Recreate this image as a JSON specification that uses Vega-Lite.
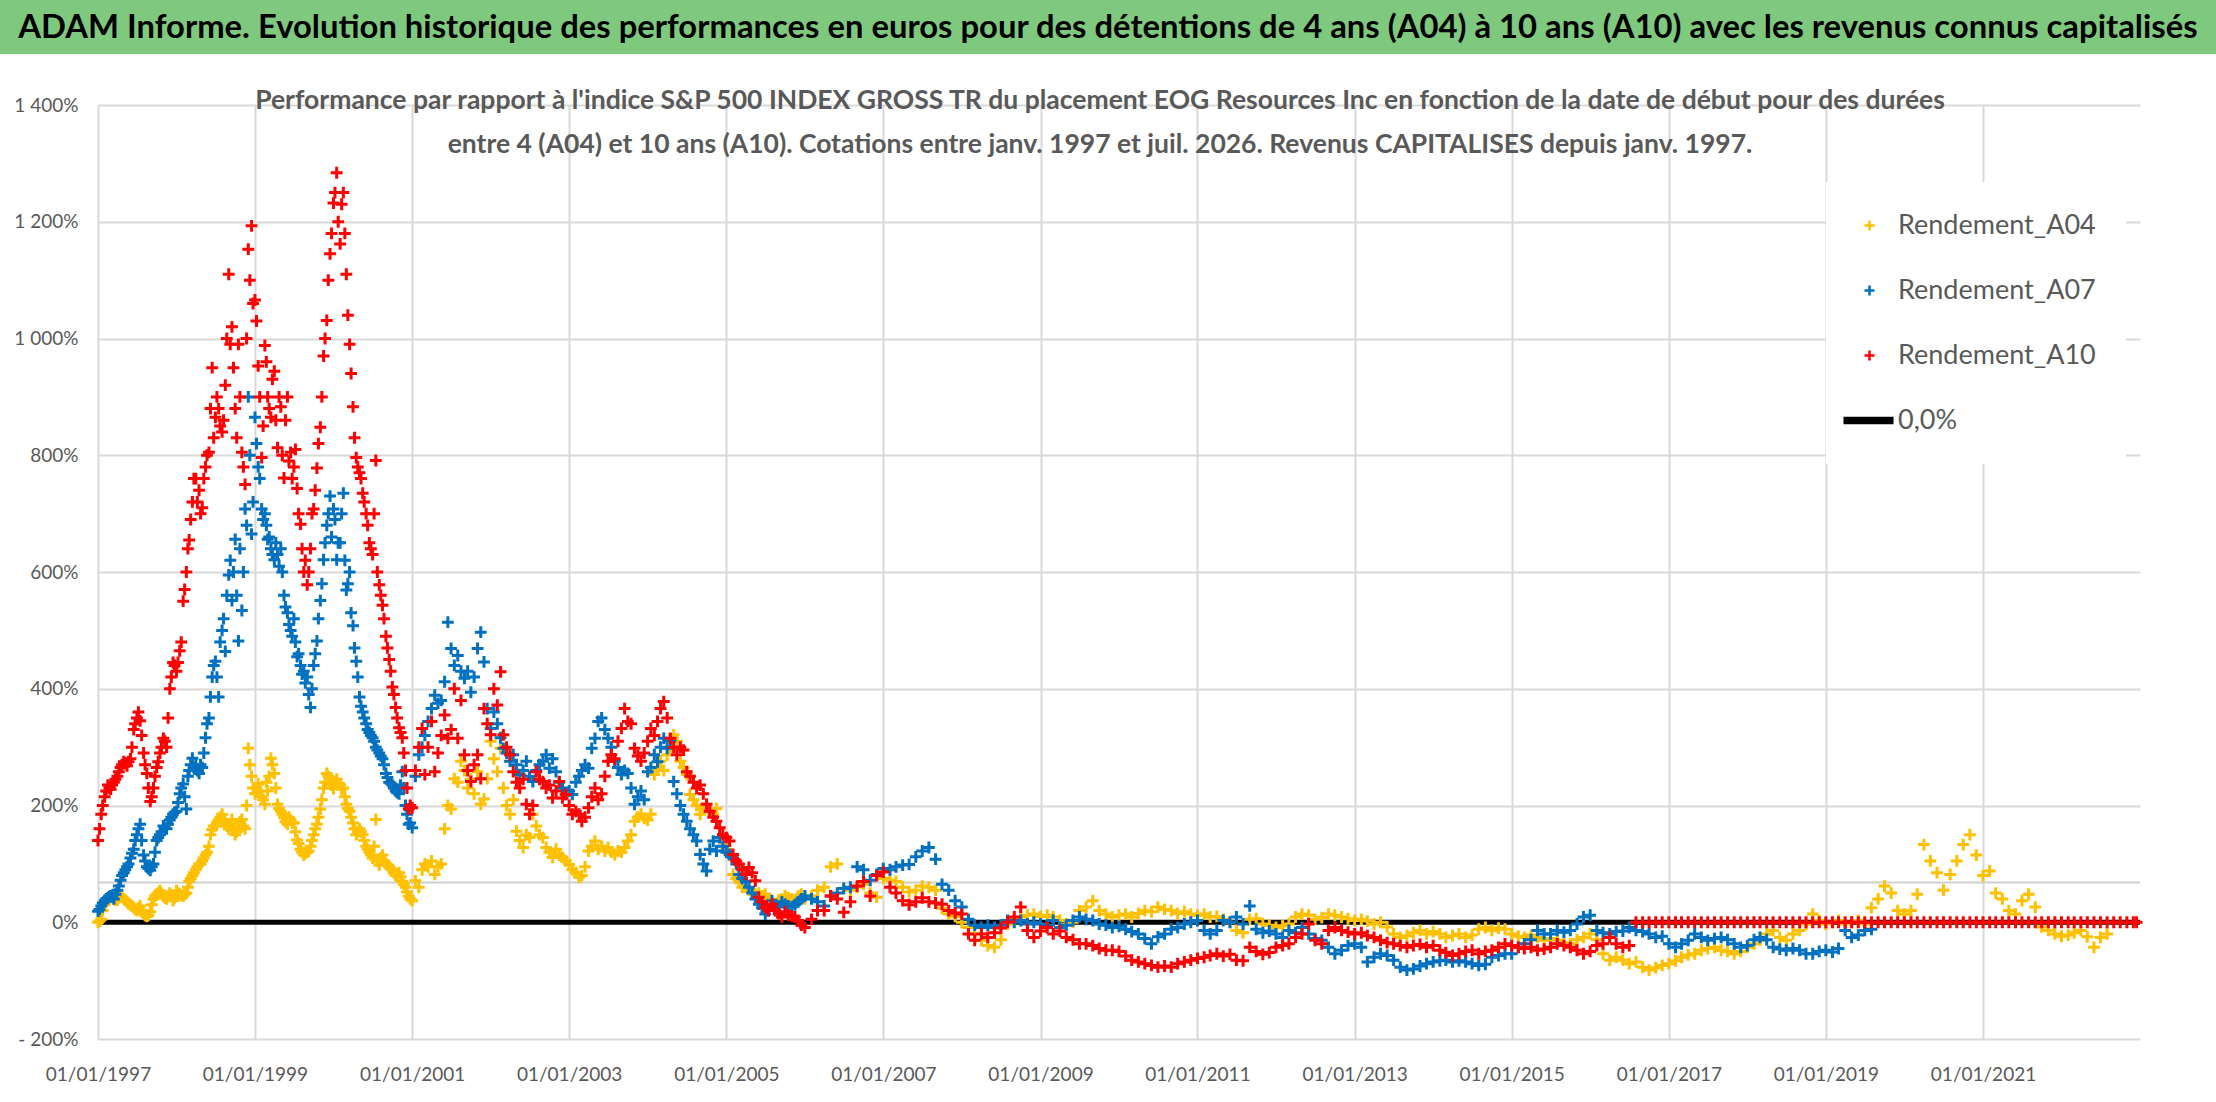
{
  "$schema": "https://vega.github.io/schema/vega-lite/v6.json",
  "padding": 0,
  "spacing": 33,
  "background": "white",
  "config": {
    "font": "Lato",
    "view": {"stroke": null},
    "axis": {"labelFont": "Lato", "labelColor": "#595959", "gridColor": "#d9d9d9", "gridWidth": 2, "domain": false, "ticks": false, "tickSize": 0},
    "legend": {"labelFont": "Lato"},
    "title": {"font": "Lato"}
  },
  "vconcat": [
    {
      "width": 2216,
      "height": 54,
      "view": {"fill": "#7fc97f", "stroke": null},
      "data": {"values": [{"t": "ADAM Informe. Evolution historique des performances en euros pour des détentions de 4 ans (A04) à 10 ans (A10) avec les revenus connus capitalisés"}]},
      "mark": {"type": "text", "fontSize": 32.8, "fontWeight": "bold", "color": "black", "baseline": "middle", "dy": 1, "font": "Lato"},
      "encoding": {"text": {"field": "t", "type": "nominal"}}
    },
    {
      "spacing": 0,
      "hconcat": [
        {
          "width": 1,
          "height": 1,
          "data": {"values": []},
          "mark": {"type": "point", "opacity": 0},
          "encoding": {}
        },
        {
          "width": 2042,
          "height": 934,
          "title": {
            "text": ["Performance  par rapport à l'indice S&P 500 INDEX GROSS TR  du placement EOG Resources Inc en fonction de la date de début pour des durées", "entre 4 (A04) et 10 ans (A10). Cotations entre janv. 1997 et juil. 2026. Revenus CAPITALISES depuis janv. 1997."],
            "fontSize": 26.5,
            "fontWeight": "bold",
            "color": "#595959",
            "anchor": "middle",
            "offset": -62,
            "dx": -19,
            "lineHeight": 44
          },
          "layer": [
            {
              "data": {"values": [{"v": 68}]},
              "mark": {"type": "rule", "color": "#cfcfcf", "strokeWidth": 2},
              "encoding": {"y": {"field": "v", "type": "quantitative"}}
            },
            {
              "data": {"values": [{"v": 0}]},
              "mark": {"type": "rule", "color": "black", "strokeWidth": 5},
              "encoding": {"y": {"field": "v", "type": "quantitative"}}
            },
            {
              "data": {"values": [
                {"d":"1997-01-01","A04":0,"A07":19,"A10":140},
                {"d":"1997-01-08","A04":2,"A07":22,"A10":160},
                {"d":"1997-01-16","A04":5,"A07":28,"A10":185},
                {"d":"1997-01-23","A04":20,"A07":33,"A10":200},
                {"d":"1997-02-01","A04":30,"A07":37,"A10":215},
                {"d":"1997-02-08","A04":35,"A07":40,"A10":225},
                {"d":"1997-02-16","A04":40,"A07":42,"A10":235},
                {"d":"1997-02-23","A04":42,"A07":44,"A10":230},
                {"d":"1997-03-01","A04":45,"A07":45,"A10":228},
                {"d":"1997-03-08","A04":43,"A07":43,"A10":235},
                {"d":"1997-03-16","A04":40,"A07":40,"A10":240},
                {"d":"1997-03-23","A04":38,"A07":48,"A10":245},
                {"d":"1997-04-01","A04":38,"A07":55,"A10":250},
                {"d":"1997-04-08","A04":42,"A07":62,"A10":258},
                {"d":"1997-04-16","A04":44,"A07":72,"A10":265},
                {"d":"1997-04-23","A04":43,"A07":80,"A10":270},
                {"d":"1997-05-01","A04":40,"A07":85,"A10":275},
                {"d":"1997-05-08","A04":38,"A07":90,"A10":272},
                {"d":"1997-05-16","A04":35,"A07":95,"A10":268},
                {"d":"1997-05-23","A04":32,"A07":100,"A10":275},
                {"d":"1997-06-01","A04":30,"A07":110,"A10":280},
                {"d":"1997-06-08","A04":28,"A07":118,"A10":300},
                {"d":"1997-06-16","A04":25,"A07":125,"A10":330},
                {"d":"1997-06-23","A04":22,"A07":140,"A10":340},
                {"d":"1997-07-01","A04":20,"A07":150,"A10":350},
                {"d":"1997-07-08","A04":24,"A07":160,"A10":360},
                {"d":"1997-07-16","A04":28,"A07":168,"A10":345},
                {"d":"1997-07-23","A04":20,"A07":140,"A10":320},
                {"d":"1997-08-01","A04":15,"A07":115,"A10":290},
                {"d":"1997-08-08","A04":12,"A07":105,"A10":270},
                {"d":"1997-08-16","A04":10,"A07":95,"A10":255},
                {"d":"1997-08-23","A04":12,"A07":92,"A10":230},
                {"d":"1997-09-01","A04":18,"A07":89,"A10":207},
                {"d":"1997-09-08","A04":30,"A07":95,"A10":215},
                {"d":"1997-09-16","A04":40,"A07":100,"A10":230},
                {"d":"1997-09-23","A04":45,"A07":120,"A10":250},
                {"d":"1997-10-01","A04":48,"A07":140,"A10":265},
                {"d":"1997-10-08","A04":50,"A07":145,"A10":275},
                {"d":"1997-10-16","A04":54,"A07":150,"A10":290},
                {"d":"1997-10-23","A04":50,"A07":155,"A10":300},
                {"d":"1997-11-01","A04":45,"A07":165,"A10":315},
                {"d":"1997-11-08","A04":42,"A07":162,"A10":310},
                {"d":"1997-11-16","A04":40,"A07":160,"A10":300},
                {"d":"1997-11-23","A04":45,"A07":168,"A10":350},
                {"d":"1997-12-01","A04":50,"A07":175,"A10":400},
                {"d":"1997-12-08","A04":45,"A07":180,"A10":420},
                {"d":"1997-12-16","A04":37,"A07":185,"A10":445},
                {"d":"1997-12-23","A04":42,"A07":188,"A10":440},
                {"d":"1998-01-01","A04":54,"A07":190,"A10":430},
                {"d":"1998-01-08","A04":50,"A07":205,"A10":445},
                {"d":"1998-01-16","A04":48,"A07":220,"A10":465},
                {"d":"1998-01-23","A04":46,"A07":230,"A10":480},
                {"d":"1998-02-01","A04":45,"A07":237,"A10":550},
                {"d":"1998-02-08","A04":48,"A07":215,"A10":570},
                {"d":"1998-02-16","A04":50,"A07":194,"A10":600},
                {"d":"1998-02-23","A04":60,"A07":250,"A10":640},
                {"d":"1998-03-01","A04":70,"A07":260,"A10":655},
                {"d":"1998-03-08","A04":75,"A07":270,"A10":690},
                {"d":"1998-03-16","A04":80,"A07":281,"A10":720},
                {"d":"1998-03-23","A04":85,"A07":265,"A10":760},
                {"d":"1998-04-01","A04":90,"A07":270,"A10":760},
                {"d":"1998-04-08","A04":95,"A07":260,"A10":720},
                {"d":"1998-04-16","A04":100,"A07":255,"A10":740},
                {"d":"1998-04-23","A04":100,"A07":270,"A10":700},
                {"d":"1998-05-01","A04":105,"A07":265,"A10":710},
                {"d":"1998-05-08","A04":110,"A07":290,"A10":760},
                {"d":"1998-05-16","A04":115,"A07":316,"A10":780},
                {"d":"1998-05-23","A04":120,"A07":340,"A10":800},
                {"d":"1998-06-01","A04":130,"A07":350,"A10":805},
                {"d":"1998-06-08","A04":150,"A07":386,"A10":880},
                {"d":"1998-06-16","A04":159,"A07":420,"A10":950},
                {"d":"1998-06-23","A04":165,"A07":440,"A10":830},
                {"d":"1998-07-01","A04":165,"A07":447,"A10":865},
                {"d":"1998-07-08","A04":170,"A07":420,"A10":900},
                {"d":"1998-07-16","A04":175,"A07":386,"A10":880},
                {"d":"1998-07-23","A04":180,"A07":480,"A10":850},
                {"d":"1998-08-01","A04":185,"A07":500,"A10":840},
                {"d":"1998-08-08","A04":175,"A07":520,"A10":860},
                {"d":"1998-08-16","A04":170,"A07":464,"A10":920},
                {"d":"1998-08-23","A04":165,"A07":560,"A10":1000},
                {"d":"1998-09-01","A04":160,"A07":595,"A10":1110},
                {"d":"1998-09-08","A04":168,"A07":620,"A10":990},
                {"d":"1998-09-16","A04":176,"A07":551,"A10":1020},
                {"d":"1998-09-23","A04":158,"A07":600,"A10":950},
                {"d":"1998-10-01","A04":150,"A07":656,"A10":880},
                {"d":"1998-10-08","A04":155,"A07":560,"A10":830},
                {"d":"1998-10-16","A04":165,"A07":482,"A10":990},
                {"d":"1998-10-23","A04":172,"A07":640,"A10":900},
                {"d":"1998-11-01","A04":176,"A07":534,"A10":805},
                {"d":"1998-11-08","A04":165,"A07":600,"A10":780},
                {"d":"1998-11-16","A04":160,"A07":708,"A10":750},
                {"d":"1998-11-23","A04":200,"A07":680,"A10":1000},
                {"d":"1998-12-01","A04":298,"A07":900,"A10":1153},
                {"d":"1998-12-08","A04":270,"A07":800,"A10":1100},
                {"d":"1998-12-16","A04":250,"A07":665,"A10":1193},
                {"d":"1998-12-23","A04":230,"A07":720,"A10":1060},
                {"d":"1999-01-01","A04":220,"A07":865,"A10":1066},
                {"d":"1999-01-08","A04":230,"A07":820,"A10":1030},
                {"d":"1999-01-16","A04":237,"A07":780,"A10":953},
                {"d":"1999-01-23","A04":225,"A07":760,"A10":900},
                {"d":"1999-02-01","A04":215,"A07":708,"A10":796},
                {"d":"1999-02-08","A04":210,"A07":690,"A10":850},
                {"d":"1999-02-16","A04":202,"A07":700,"A10":988},
                {"d":"1999-02-23","A04":240,"A07":680,"A10":960},
                {"d":"1999-03-01","A04":225,"A07":656,"A10":900},
                {"d":"1999-03-08","A04":250,"A07":660,"A10":880},
                {"d":"1999-03-16","A04":281,"A07":640,"A10":865},
                {"d":"1999-03-23","A04":270,"A07":630,"A10":930},
                {"d":"1999-04-01","A04":255,"A07":621,"A10":944},
                {"d":"1999-04-08","A04":230,"A07":650,"A10":860},
                {"d":"1999-04-16","A04":202,"A07":630,"A10":813},
                {"d":"1999-04-23","A04":195,"A07":610,"A10":900},
                {"d":"1999-05-01","A04":190,"A07":640,"A10":883},
                {"d":"1999-05-08","A04":185,"A07":600,"A10":800},
                {"d":"1999-05-16","A04":180,"A07":560,"A10":761},
                {"d":"1999-05-23","A04":172,"A07":540,"A10":860},
                {"d":"1999-06-01","A04":168,"A07":530,"A10":900},
                {"d":"1999-06-08","A04":180,"A07":510,"A10":790},
                {"d":"1999-06-16","A04":175,"A07":500,"A10":805},
                {"d":"1999-06-23","A04":170,"A07":490,"A10":760},
                {"d":"1999-07-01","A04":170,"A07":520,"A10":780},
                {"d":"1999-07-08","A04":155,"A07":480,"A10":810},
                {"d":"1999-07-16","A04":141,"A07":455,"A10":743},
                {"d":"1999-07-23","A04":135,"A07":460,"A10":700},
                {"d":"1999-08-01","A04":125,"A07":440,"A10":682},
                {"d":"1999-08-08","A04":120,"A07":425,"A10":640},
                {"d":"1999-08-16","A04":115,"A07":430,"A10":600},
                {"d":"1999-08-23","A04":118,"A07":410,"A10":620},
                {"d":"1999-09-01","A04":120,"A07":420,"A10":578},
                {"d":"1999-09-08","A04":122,"A07":390,"A10":600},
                {"d":"1999-09-16","A04":130,"A07":368,"A10":640},
                {"d":"1999-09-23","A04":140,"A07":400,"A10":700},
                {"d":"1999-10-01","A04":150,"A07":440,"A10":708},
                {"d":"1999-10-08","A04":160,"A07":460,"A10":740},
                {"d":"1999-10-16","A04":168,"A07":482,"A10":778},
                {"d":"1999-10-23","A04":180,"A07":520,"A10":820},
                {"d":"1999-11-01","A04":194,"A07":551,"A10":848},
                {"d":"1999-11-08","A04":210,"A07":580,"A10":900},
                {"d":"1999-11-16","A04":230,"A07":621,"A10":970},
                {"d":"1999-11-23","A04":240,"A07":650,"A10":1000},
                {"d":"1999-12-01","A04":255,"A07":680,"A10":1031},
                {"d":"1999-12-08","A04":250,"A07":700,"A10":1100},
                {"d":"1999-12-16","A04":240,"A07":730,"A10":1145},
                {"d":"1999-12-23","A04":235,"A07":660,"A10":1180},
                {"d":"2000-01-01","A04":229,"A07":708,"A10":1232},
                {"d":"2000-01-08","A04":240,"A07":690,"A10":1250},
                {"d":"2000-01-16","A04":245,"A07":621,"A10":1284},
                {"d":"2000-01-23","A04":238,"A07":650,"A10":1200},
                {"d":"2000-02-01","A04":235,"A07":650,"A10":1162},
                {"d":"2000-02-08","A04":228,"A07":700,"A10":1230},
                {"d":"2000-02-16","A04":230,"A07":735,"A10":1250},
                {"d":"2000-02-23","A04":215,"A07":620,"A10":1180},
                {"d":"2000-03-01","A04":202,"A07":569,"A10":1110},
                {"d":"2000-03-08","A04":195,"A07":580,"A10":1040},
                {"d":"2000-03-16","A04":190,"A07":600,"A10":990},
                {"d":"2000-03-23","A04":180,"A07":530,"A10":940},
                {"d":"2000-04-01","A04":170,"A07":508,"A10":883},
                {"d":"2000-04-08","A04":160,"A07":470,"A10":830},
                {"d":"2000-04-16","A04":150,"A07":447,"A10":796},
                {"d":"2000-04-23","A04":155,"A07":420,"A10":780},
                {"d":"2000-05-01","A04":160,"A07":386,"A10":770},
                {"d":"2000-05-08","A04":155,"A07":370,"A10":760},
                {"d":"2000-05-16","A04":150,"A07":360,"A10":735},
                {"d":"2000-05-23","A04":140,"A07":350,"A10":720},
                {"d":"2000-06-01","A04":130,"A07":340,"A10":700},
                {"d":"2000-06-08","A04":125,"A07":330,"A10":680},
                {"d":"2000-06-16","A04":120,"A07":325,"A10":650},
                {"d":"2000-06-23","A04":115,"A07":320,"A10":640},
                {"d":"2000-07-01","A04":110,"A07":316,"A10":630},
                {"d":"2000-07-08","A04":130,"A07":310,"A10":700},
                {"d":"2000-07-16","A04":176,"A07":300,"A10":791},
                {"d":"2000-07-23","A04":105,"A07":295,"A10":600},
                {"d":"2000-08-01","A04":98,"A07":290,"A10":578},
                {"d":"2000-08-08","A04":110,"A07":285,"A10":560},
                {"d":"2000-08-16","A04":115,"A07":280,"A10":543},
                {"d":"2000-08-23","A04":105,"A07":270,"A10":520},
                {"d":"2000-09-01","A04":100,"A07":255,"A10":490},
                {"d":"2000-09-08","A04":98,"A07":248,"A10":470},
                {"d":"2000-09-16","A04":95,"A07":240,"A10":450},
                {"d":"2000-09-23","A04":92,"A07":238,"A10":430},
                {"d":"2000-10-01","A04":90,"A07":235,"A10":403},
                {"d":"2000-10-08","A04":85,"A07":230,"A10":390},
                {"d":"2000-10-16","A04":80,"A07":225,"A10":368},
                {"d":"2000-10-23","A04":82,"A07":222,"A10":350},
                {"d":"2000-11-01","A04":85,"A07":220,"A10":333},
                {"d":"2000-11-08","A04":78,"A07":235,"A10":325},
                {"d":"2000-11-16","A04":70,"A07":258,"A10":316},
                {"d":"2000-11-23","A04":65,"A07":230,"A10":290},
                {"d":"2000-12-01","A04":60,"A07":200,"A10":260},
                {"d":"2000-12-08","A04":52,"A07":185,"A10":230},
                {"d":"2000-12-16","A04":45,"A07":168,"A10":194},
                {"d":"2000-12-23","A04":40,"A07":170,"A10":200},
                {"d":"2001-01-01","A04":37,"A07":162,"A10":196},
                {"d":"2001-01-16","A04":71,"A07":250,"A10":260},
                {"d":"2001-02-01","A04":60,"A07":287,"A10":300},
                {"d":"2001-02-16","A04":90,"A07":300,"A10":332},
                {"d":"2001-03-01","A04":100,"A07":320,"A10":253},
                {"d":"2001-03-16","A04":95,"A07":344,"A10":300},
                {"d":"2001-04-01","A04":105,"A07":366,"A10":344},
                {"d":"2001-04-16","A04":82,"A07":389,"A10":258},
                {"d":"2001-05-01","A04":95,"A07":375,"A10":290},
                {"d":"2001-05-16","A04":100,"A07":380,"A10":320},
                {"d":"2001-06-01","A04":160,"A07":412,"A10":355},
                {"d":"2001-06-16","A04":200,"A07":514,"A10":315},
                {"d":"2001-07-01","A04":194,"A07":469,"A10":330},
                {"d":"2001-07-16","A04":246,"A07":440,"A10":400},
                {"d":"2001-08-01","A04":240,"A07":457,"A10":315},
                {"d":"2001-08-16","A04":276,"A07":430,"A10":380},
                {"d":"2001-09-01","A04":260,"A07":418,"A10":287},
                {"d":"2001-09-16","A04":230,"A07":430,"A10":260},
                {"d":"2001-10-01","A04":245,"A07":394,"A10":241},
                {"d":"2001-10-16","A04":220,"A07":420,"A10":270},
                {"d":"2001-11-01","A04":258,"A07":469,"A10":287},
                {"d":"2001-11-16","A04":202,"A07":497,"A10":246},
                {"d":"2001-12-01","A04":211,"A07":446,"A10":366},
                {"d":"2001-12-16","A04":246,"A07":366,"A10":340},
                {"d":"2002-01-01","A04":310,"A07":332,"A10":321},
                {"d":"2002-01-16","A04":280,"A07":360,"A10":400},
                {"d":"2002-02-01","A04":258,"A07":340,"A10":372},
                {"d":"2002-02-16","A04":298,"A07":316,"A10":429},
                {"d":"2002-03-01","A04":230,"A07":298,"A10":321},
                {"d":"2002-03-16","A04":200,"A07":290,"A10":300},
                {"d":"2002-04-01","A04":185,"A07":276,"A10":287},
                {"d":"2002-04-16","A04":210,"A07":287,"A10":258},
                {"d":"2002-05-01","A04":156,"A07":270,"A10":240},
                {"d":"2002-05-16","A04":140,"A07":253,"A10":230},
                {"d":"2002-06-01","A04":128,"A07":260,"A10":245},
                {"d":"2002-06-16","A04":150,"A07":276,"A10":202},
                {"d":"2002-07-01","A04":145,"A07":250,"A10":185},
                {"d":"2002-07-16","A04":185,"A07":241,"A10":200},
                {"d":"2002-08-01","A04":165,"A07":260,"A10":258},
                {"d":"2002-08-16","A04":150,"A07":270,"A10":245},
                {"d":"2002-09-01","A04":145,"A07":276,"A10":241},
                {"d":"2002-09-16","A04":128,"A07":287,"A10":230},
                {"d":"2002-10-01","A04":120,"A07":264,"A10":235},
                {"d":"2002-10-16","A04":111,"A07":280,"A10":213},
                {"d":"2002-11-01","A04":125,"A07":258,"A10":225},
                {"d":"2002-11-16","A04":115,"A07":240,"A10":241},
                {"d":"2002-12-01","A04":111,"A07":230,"A10":213},
                {"d":"2002-12-16","A04":105,"A07":219,"A10":219},
                {"d":"2003-01-01","A04":99,"A07":225,"A10":200},
                {"d":"2003-01-16","A04":90,"A07":219,"A10":185},
                {"d":"2003-02-01","A04":85,"A07":240,"A10":190},
                {"d":"2003-02-16","A04":77,"A07":250,"A10":185},
                {"d":"2003-03-01","A04":80,"A07":260,"A10":173},
                {"d":"2003-03-16","A04":95,"A07":270,"A10":180},
                {"d":"2003-04-01","A04":122,"A07":264,"A10":196},
                {"d":"2003-04-16","A04":130,"A07":298,"A10":215},
                {"d":"2003-05-01","A04":139,"A07":315,"A10":230},
                {"d":"2003-05-16","A04":125,"A07":344,"A10":210},
                {"d":"2003-06-01","A04":130,"A07":350,"A10":220},
                {"d":"2003-06-16","A04":122,"A07":330,"A10":250},
                {"d":"2003-07-01","A04":128,"A07":315,"A10":276},
                {"d":"2003-07-16","A04":120,"A07":300,"A10":287},
                {"d":"2003-08-01","A04":116,"A07":276,"A10":280},
                {"d":"2003-08-16","A04":122,"A07":265,"A10":310},
                {"d":"2003-09-01","A04":120,"A07":253,"A10":332},
                {"d":"2003-09-16","A04":128,"A07":260,"A10":366},
                {"d":"2003-10-01","A04":139,"A07":255,"A10":344},
                {"d":"2003-10-16","A04":150,"A07":230,"A10":340},
                {"d":"2003-11-01","A04":173,"A07":202,"A10":298},
                {"d":"2003-11-16","A04":180,"A07":215,"A10":285},
                {"d":"2003-12-01","A04":185,"A07":225,"A10":276},
                {"d":"2003-12-16","A04":178,"A07":210,"A10":290},
                {"d":"2004-01-01","A04":175,"A07":258,"A10":310},
                {"d":"2004-01-16","A04":185,"A07":265,"A10":332},
                {"d":"2004-02-01","A04":253,"A07":287,"A10":320},
                {"d":"2004-02-16","A04":265,"A07":275,"A10":344},
                {"d":"2004-03-01","A04":276,"A07":300,"A10":366},
                {"d":"2004-03-16","A04":260,"A07":315,"A10":378},
                {"d":"2004-04-01","A04":287,"A07":298,"A10":350},
                {"d":"2004-04-16","A04":300,"A07":310,"A10":315},
                {"d":"2004-05-01","A04":321,"A07":241,"A10":300},
                {"d":"2004-05-16","A04":310,"A07":220,"A10":287},
                {"d":"2004-06-01","A04":276,"A07":200,"A10":300},
                {"d":"2004-06-16","A04":265,"A07":185,"A10":295},
                {"d":"2004-07-01","A04":253,"A07":173,"A10":258},
                {"d":"2004-07-16","A04":219,"A07":160,"A10":250},
                {"d":"2004-08-01","A04":210,"A07":150,"A10":240},
                {"d":"2004-08-16","A04":200,"A07":139,"A10":230},
                {"d":"2004-09-01","A04":185,"A07":116,"A10":235},
                {"d":"2004-09-16","A04":195,"A07":100,"A10":220},
                {"d":"2004-10-01","A04":202,"A07":88,"A10":202},
                {"d":"2004-10-16","A04":190,"A07":125,"A10":190},
                {"d":"2004-11-01","A04":185,"A07":139,"A10":180},
                {"d":"2004-11-16","A04":195,"A07":122,"A10":173},
                {"d":"2004-12-01","A04":145,"A07":145,"A10":162},
                {"d":"2004-12-16","A04":130,"A07":130,"A10":150},
                {"d":"2005-01-01","A04":125,"A07":120,"A10":145},
                {"d":"2005-01-16","A04":116,"A07":116,"A10":139},
                {"d":"2005-02-01","A04":82,"A07":110,"A10":116},
                {"d":"2005-02-16","A04":75,"A07":100,"A10":105},
                {"d":"2005-03-01","A04":70,"A07":82,"A10":100},
                {"d":"2005-03-16","A04":60,"A07":75,"A10":90},
                {"d":"2005-04-01","A04":60,"A07":70,"A10":82},
                {"d":"2005-04-16","A04":55,"A07":60,"A10":94},
                {"d":"2005-05-01","A04":52,"A07":50,"A10":85},
                {"d":"2005-05-16","A04":48,"A07":40,"A10":71},
                {"d":"2005-06-01","A04":50,"A07":31,"A10":43},
                {"d":"2005-06-16","A04":45,"A07":25,"A10":35},
                {"d":"2005-07-01","A04":48,"A07":14,"A10":25},
                {"d":"2005-07-16","A04":40,"A07":20,"A10":20},
                {"d":"2005-08-01","A04":35,"A07":37,"A10":31},
                {"d":"2005-08-16","A04":31,"A07":30,"A10":20},
                {"d":"2005-09-01","A04":38,"A07":26,"A10":15},
                {"d":"2005-09-16","A04":40,"A07":35,"A10":9},
                {"d":"2005-10-01","A04":45,"A07":31,"A10":18},
                {"d":"2005-10-16","A04":42,"A07":28,"A10":12},
                {"d":"2005-11-01","A04":40,"A07":26,"A10":10},
                {"d":"2005-11-16","A04":38,"A07":30,"A10":9},
                {"d":"2005-12-01","A04":45,"A07":35,"A10":3},
                {"d":"2005-12-16","A04":48,"A07":40,"A10":-5},
                {"d":"2006-01-01","A04":40,"A07":45,"A10":-9},
                {"d":"2006-02-01","A04":45,"A07":40,"A10":5},
                {"d":"2006-03-01","A04":55,"A07":35,"A10":20},
                {"d":"2006-04-01","A04":60,"A07":28,"A10":20},
                {"d":"2006-05-01","A04":95,"A07":45,"A10":45},
                {"d":"2006-06-01","A04":100,"A07":50,"A10":40},
                {"d":"2006-07-01","A04":58,"A07":58,"A10":17},
                {"d":"2006-08-01","A04":55,"A07":60,"A10":35},
                {"d":"2006-09-01","A04":60,"A07":95,"A10":62},
                {"d":"2006-10-01","A04":65,"A07":90,"A10":70},
                {"d":"2006-11-01","A04":50,"A07":72,"A10":45},
                {"d":"2006-12-01","A04":43,"A07":82,"A10":80},
                {"d":"2007-01-01","A04":75,"A07":92,"A10":86},
                {"d":"2007-02-01","A04":72,"A07":90,"A10":60},
                {"d":"2007-03-01","A04":70,"A07":95,"A10":50},
                {"d":"2007-04-01","A04":60,"A07":98,"A10":37},
                {"d":"2007-05-01","A04":52,"A07":99,"A10":30},
                {"d":"2007-06-01","A04":55,"A07":112,"A10":35},
                {"d":"2007-07-01","A04":62,"A07":122,"A10":42},
                {"d":"2007-08-01","A04":60,"A07":128,"A10":35},
                {"d":"2007-09-01","A04":55,"A07":108,"A10":33},
                {"d":"2007-10-01","A04":24,"A07":65,"A10":31},
                {"d":"2007-11-01","A04":14,"A07":55,"A10":20},
                {"d":"2007-12-01","A04":10,"A07":37,"A10":16},
                {"d":"2008-01-01","A04":0,"A07":26,"A10":14},
                {"d":"2008-02-01","A04":-9,"A07":5,"A10":-20},
                {"d":"2008-03-01","A04":-20,"A07":-5,"A10":-31},
                {"d":"2008-04-01","A04":-31,"A07":-9,"A10":-20},
                {"d":"2008-05-01","A04":-40,"A07":-5,"A10":-26},
                {"d":"2008-06-01","A04":-43,"A07":-9,"A10":-18},
                {"d":"2008-07-01","A04":-30,"A07":-5,"A10":-10},
                {"d":"2008-08-01","A04":-3,"A07":3,"A10":0},
                {"d":"2008-09-01","A04":5,"A07":0,"A10":9},
                {"d":"2008-10-01","A04":9,"A07":3,"A10":26},
                {"d":"2008-11-01","A04":12,"A07":-3,"A10":-14},
                {"d":"2008-12-01","A04":14,"A07":0,"A10":-26},
                {"d":"2009-01-01","A04":10,"A07":-3,"A10":-15},
                {"d":"2009-02-01","A04":12,"A07":-5,"A10":-9},
                {"d":"2009-03-01","A04":9,"A07":3,"A10":-20},
                {"d":"2009-04-01","A04":3,"A07":-9,"A10":-15},
                {"d":"2009-05-01","A04":-3,"A07":-5,"A10":-26},
                {"d":"2009-06-01","A04":0,"A07":3,"A10":-30},
                {"d":"2009-07-01","A04":20,"A07":9,"A10":-37},
                {"d":"2009-08-01","A04":26,"A07":5,"A10":-37},
                {"d":"2009-09-01","A04":37,"A07":3,"A10":-40},
                {"d":"2009-10-01","A04":20,"A07":-3,"A10":-45},
                {"d":"2009-11-01","A04":14,"A07":-5,"A10":-48},
                {"d":"2009-12-01","A04":9,"A07":-9,"A10":-48},
                {"d":"2010-01-01","A04":12,"A07":-7,"A10":-50},
                {"d":"2010-02-01","A04":14,"A07":-12,"A10":-58},
                {"d":"2010-03-01","A04":9,"A07":-16,"A10":-65},
                {"d":"2010-04-01","A04":15,"A07":-20,"A10":-68},
                {"d":"2010-05-01","A04":20,"A07":-28,"A10":-71},
                {"d":"2010-06-01","A04":18,"A07":-37,"A10":-74},
                {"d":"2010-07-01","A04":26,"A07":-25,"A10":-77},
                {"d":"2010-08-01","A04":22,"A07":-20,"A10":-75},
                {"d":"2010-09-01","A04":20,"A07":-12,"A10":-77},
                {"d":"2010-10-01","A04":15,"A07":-9,"A10":-71},
                {"d":"2010-11-01","A04":18,"A07":-3,"A10":-68},
                {"d":"2010-12-01","A04":14,"A07":0,"A10":-65},
                {"d":"2011-01-01","A04":12,"A07":3,"A10":-62},
                {"d":"2011-02-01","A04":14,"A07":-14,"A10":-60},
                {"d":"2011-03-01","A04":9,"A07":-20,"A10":-57},
                {"d":"2011-04-01","A04":10,"A07":-14,"A10":-54},
                {"d":"2011-05-01","A04":5,"A07":3,"A10":-58},
                {"d":"2011-06-01","A04":0,"A07":0,"A10":-55},
                {"d":"2011-07-01","A04":-14,"A07":9,"A10":-65},
                {"d":"2011-08-01","A04":-18,"A07":-3,"A10":-66},
                {"d":"2011-09-01","A04":5,"A07":28,"A10":-43},
                {"d":"2011-10-01","A04":6,"A07":-12,"A10":-50},
                {"d":"2011-11-01","A04":-3,"A07":-18,"A10":-55},
                {"d":"2011-12-01","A04":-5,"A07":-15,"A10":-52},
                {"d":"2012-01-01","A04":-9,"A07":-20,"A10":-43},
                {"d":"2012-02-01","A04":-6,"A07":-26,"A10":-40},
                {"d":"2012-03-01","A04":-3,"A07":-14,"A10":-37},
                {"d":"2012-04-01","A04":9,"A07":-18,"A10":-26},
                {"d":"2012-05-01","A04":14,"A07":-9,"A10":-20},
                {"d":"2012-06-01","A04":12,"A07":-20,"A10":-3},
                {"d":"2012-07-01","A04":5,"A07":-28,"A10":-31},
                {"d":"2012-08-01","A04":8,"A07":-31,"A10":-37},
                {"d":"2012-09-01","A04":14,"A07":-43,"A10":-14},
                {"d":"2012-10-01","A04":12,"A07":-54,"A10":-9},
                {"d":"2012-11-01","A04":9,"A07":-48,"A10":-14},
                {"d":"2012-12-01","A04":6,"A07":-40,"A10":-17},
                {"d":"2013-01-01","A04":3,"A07":-37,"A10":-20},
                {"d":"2013-02-01","A04":5,"A07":-43,"A10":-18},
                {"d":"2013-03-01","A04":2,"A07":-68,"A10":-23},
                {"d":"2013-04-01","A04":-3,"A07":-60,"A10":-26},
                {"d":"2013-05-01","A04":0,"A07":-54,"A10":-31},
                {"d":"2013-06-01","A04":-8,"A07":-57,"A10":-35},
                {"d":"2013-07-01","A04":-20,"A07":-65,"A10":-37},
                {"d":"2013-08-01","A04":-26,"A07":-77,"A10":-40},
                {"d":"2013-09-01","A04":-23,"A07":-82,"A10":-43},
                {"d":"2013-10-01","A04":-18,"A07":-80,"A10":-40},
                {"d":"2013-11-01","A04":-14,"A07":-75,"A10":-38},
                {"d":"2013-12-01","A04":-20,"A07":-71,"A10":-43},
                {"d":"2014-01-01","A04":-16,"A07":-68,"A10":-40},
                {"d":"2014-02-01","A04":-20,"A07":-66,"A10":-48},
                {"d":"2014-03-01","A04":-26,"A07":-65,"A10":-52},
                {"d":"2014-04-01","A04":-23,"A07":-68,"A10":-57},
                {"d":"2014-05-01","A04":-20,"A07":-66,"A10":-54},
                {"d":"2014-06-01","A04":-26,"A07":-68,"A10":-50},
                {"d":"2014-07-01","A04":-22,"A07":-71,"A10":-48},
                {"d":"2014-08-01","A04":-12,"A07":-74,"A10":-54},
                {"d":"2014-09-01","A04":-9,"A07":-72,"A10":-50},
                {"d":"2014-10-01","A04":-14,"A07":-60,"A10":-48},
                {"d":"2014-11-01","A04":-10,"A07":-57,"A10":-43},
                {"d":"2014-12-01","A04":-12,"A07":-54,"A10":-37},
                {"d":"2015-01-01","A04":-20,"A07":-54,"A10":-40},
                {"d":"2015-02-01","A04":-24,"A07":-43,"A10":-43},
                {"d":"2015-03-01","A04":-26,"A07":-37,"A10":-45},
                {"d":"2015-04-01","A04":-22,"A07":-30,"A10":-43},
                {"d":"2015-05-01","A04":-26,"A07":-14,"A10":-48},
                {"d":"2015-06-01","A04":-31,"A07":-20,"A10":-46},
                {"d":"2015-07-01","A04":-28,"A07":-20,"A10":-43},
                {"d":"2015-08-01","A04":-31,"A07":-14,"A10":-37},
                {"d":"2015-09-01","A04":-35,"A07":-17,"A10":-40},
                {"d":"2015-10-01","A04":-37,"A07":-14,"A10":-43},
                {"d":"2015-11-01","A04":-30,"A07":-3,"A10":-48},
                {"d":"2015-12-01","A04":-26,"A07":9,"A10":-54},
                {"d":"2016-01-01","A04":-20,"A07":12,"A10":-50},
                {"d":"2016-02-01","A04":-30,"A07":-14,"A10":-40},
                {"d":"2016-03-01","A04":-54,"A07":-18,"A10":-37},
                {"d":"2016-04-01","A04":-65,"A07":-20,"A10":-26},
                {"d":"2016-05-01","A04":-60,"A07":-16,"A10":-37},
                {"d":"2016-06-01","A04":-65,"A07":-15,"A10":-43},
                {"d":"2016-07-01","A04":-71,"A07":-9,"A10":-40},
                {"d":"2016-08-01","A04":-68,"A07":-14,"A10":0},
                {"d":"2016-09-01","A04":-77,"A07":-16,"A10":0},
                {"d":"2016-10-01","A04":-82,"A07":-20,"A10":0},
                {"d":"2016-11-01","A04":-78,"A07":-26,"A10":0},
                {"d":"2016-12-01","A04":-74,"A07":-24,"A10":0},
                {"d":"2017-01-01","A04":-71,"A07":-37,"A10":0},
                {"d":"2017-02-01","A04":-66,"A07":-43,"A10":0},
                {"d":"2017-03-01","A04":-60,"A07":-37,"A10":0},
                {"d":"2017-04-01","A04":-56,"A07":-31,"A10":0},
                {"d":"2017-05-01","A04":-54,"A07":-20,"A10":0},
                {"d":"2017-06-01","A04":-48,"A07":-26,"A10":0},
                {"d":"2017-07-01","A04":-45,"A07":-31,"A10":0},
                {"d":"2017-08-01","A04":-43,"A07":-28,"A10":0},
                {"d":"2017-09-01","A04":-48,"A07":-26,"A10":0},
                {"d":"2017-10-01","A04":-50,"A07":-30,"A10":0},
                {"d":"2017-11-01","A04":-54,"A07":-37,"A10":0},
                {"d":"2017-12-01","A04":-50,"A07":-43,"A10":0},
                {"d":"2018-01-01","A04":-43,"A07":-40,"A10":0},
                {"d":"2018-02-01","A04":-37,"A07":-30,"A10":0},
                {"d":"2018-03-01","A04":-31,"A07":-26,"A10":0},
                {"d":"2018-04-01","A04":-20,"A07":-30,"A10":0},
                {"d":"2018-05-01","A04":-14,"A07":-43,"A10":0},
                {"d":"2018-06-01","A04":-26,"A07":-46,"A10":0},
                {"d":"2018-07-01","A04":-31,"A07":-48,"A10":0},
                {"d":"2018-08-01","A04":-20,"A07":-45,"A10":0},
                {"d":"2018-09-01","A04":-14,"A07":-48,"A10":0},
                {"d":"2018-10-01","A04":-3,"A07":-54,"A10":0},
                {"d":"2018-11-01","A04":14,"A07":-54,"A10":0},
                {"d":"2018-12-01","A04":3,"A07":-50,"A10":0},
                {"d":"2019-01-01","A04":-3,"A07":-48,"A10":0},
                {"d":"2019-02-01","A04":0,"A07":-51,"A10":0},
                {"d":"2019-03-01","A04":3,"A07":-45,"A10":0},
                {"d":"2019-04-01","A04":-3,"A07":-14,"A10":0},
                {"d":"2019-05-01","A04":0,"A07":-26,"A10":0},
                {"d":"2019-06-01","A04":3,"A07":-22,"A10":0},
                {"d":"2019-07-01","A04":-3,"A07":-14,"A10":0},
                {"d":"2019-08-01","A04":25,"A07":-12,"A10":0},
                {"d":"2019-09-01","A04":40,"A10":0},
                {"d":"2019-10-01","A04":62,"A10":0},
                {"d":"2019-11-01","A04":50,"A10":0},
                {"d":"2019-12-01","A04":20,"A10":0},
                {"d":"2020-01-01","A04":14,"A10":0},
                {"d":"2020-02-01","A04":20,"A10":0},
                {"d":"2020-03-01","A04":48,"A10":0},
                {"d":"2020-04-01","A04":133,"A10":0},
                {"d":"2020-05-01","A04":105,"A10":0},
                {"d":"2020-06-01","A04":85,"A10":0},
                {"d":"2020-07-01","A04":55,"A10":0},
                {"d":"2020-08-01","A04":82,"A10":0},
                {"d":"2020-09-01","A04":105,"A10":0},
                {"d":"2020-10-01","A04":133,"A10":0},
                {"d":"2020-11-01","A04":150,"A10":0},
                {"d":"2020-12-01","A04":115,"A10":0},
                {"d":"2021-01-01","A04":80,"A10":0},
                {"d":"2021-02-01","A04":88,"A10":0},
                {"d":"2021-03-01","A04":50,"A10":0},
                {"d":"2021-04-01","A04":40,"A10":0},
                {"d":"2021-05-01","A04":20,"A10":0},
                {"d":"2021-06-01","A04":14,"A10":0},
                {"d":"2021-07-01","A04":37,"A10":0},
                {"d":"2021-08-01","A04":48,"A10":0},
                {"d":"2021-09-01","A04":26,"A10":0},
                {"d":"2021-10-01","A04":-8,"A10":0},
                {"d":"2021-11-01","A04":-14,"A10":0},
                {"d":"2021-12-01","A04":-20,"A10":0},
                {"d":"2022-01-01","A04":-24,"A10":0},
                {"d":"2022-02-01","A04":-22,"A10":0},
                {"d":"2022-03-01","A04":-18,"A10":0},
                {"d":"2022-04-01","A04":-14,"A10":0},
                {"d":"2022-05-01","A04":-25,"A10":0},
                {"d":"2022-06-01","A04":-43,"A10":0},
                {"d":"2022-07-01","A04":-26,"A10":0},
                {"d":"2022-08-01","A04":-20,"A10":0},
                {"d":"2022-09-01","A10":0},
                {"d":"2022-10-01","A10":0},
                {"d":"2022-11-01","A10":0},
                {"d":"2022-12-01","A10":0},
                {"d":"2022-12-16","A10":0}
              ]},
              "transform": [{"fold": ["A04", "A07", "A10"], "as": ["serie", "v"]}],
              "mark": {"type": "point", "filled": false, "strokeWidth": 3, "size": 140, "opacity": 1},
              "encoding": {
                "x": {
                  "field": "d",
                  "type": "temporal",
                  "scale": {"type": "utc", "domain": [{"year": 1997, "month": 1, "date": 1, "utc": true}, {"year": 2023, "month": 1, "date": 1, "utc": true}]},
                  "axis": {
                    "title": null,
                    "format": "%d/%m/%Y",
                    "labelFontSize": 19,
                    "labelPadding": 35,
                    "labelBaseline": "middle",
                    "labelFlush": false,
                    "labelOverlap": false,
                    "values": [
                      {"year": 1997, "month": 1, "date": 1, "utc": true},
                      {"year": 1999, "month": 1, "date": 1, "utc": true},
                      {"year": 2001, "month": 1, "date": 1, "utc": true},
                      {"year": 2003, "month": 1, "date": 1, "utc": true},
                      {"year": 2005, "month": 1, "date": 1, "utc": true},
                      {"year": 2007, "month": 1, "date": 1, "utc": true},
                      {"year": 2009, "month": 1, "date": 1, "utc": true},
                      {"year": 2011, "month": 1, "date": 1, "utc": true},
                      {"year": 2013, "month": 1, "date": 1, "utc": true},
                      {"year": 2015, "month": 1, "date": 1, "utc": true},
                      {"year": 2017, "month": 1, "date": 1, "utc": true},
                      {"year": 2019, "month": 1, "date": 1, "utc": true},
                      {"year": 2021, "month": 1, "date": 1, "utc": true}
                    ]
                  }
                },
                "y": {
                  "field": "v",
                  "type": "quantitative",
                  "scale": {"domain": [-200, 1400], "nice": false, "zero": false},
                  "axis": {
                    "title": null,
                    "values": [-200, 0, 200, 400, 600, 800, 1000, 1200, 1400],
                    "labelExpr": "(datum.value < 0 ? '- ' : '') + replace(format(abs(datum.value), ','), ',', ' ') + '%'",
                    "labelFontSize": 19,
                    "labelPadding": 20,
                    "minExtent": 97,
                    "maxExtent": 97
                  }
                },
                "color": {
                  "field": "serie",
                  "type": "nominal",
                  "scale": {"domain": ["A04", "A07", "A10", "0,0%"], "range": ["#FFC000", "#0070C0", "#FF0000", "#000000"]},
                  "legend": {"title": null, "orient": "none", "legendX": 1826, "legendY": 182, "padding": 30, "fillColor": "white", "symbolSize": 100, "symbolStrokeWidth": 2.5, "labelFontSize": 27, "labelLimit": 500, "labelColor": "#595959", "labelOffset": 15, "rowPadding": 37, "labelExpr": "datum.label == '0,0%' ? datum.label : 'Rendement_' + datum.label"}
                },
                "shape": {
                  "field": "serie",
                  "type": "nominal",
                  "scale": {"domain": ["A04", "A07", "A10", "0,0%"], "range": ["M-1,0L1,0M0,-1L0,1", "M-1,0L1,0M0,-1L0,1", "M-1,0L1,0M0,-1L0,1", "M-5.2,-0.5L4.8,-0.5M-5.2,0L4.8,0M-5.2,0.5L4.8,0.5"]},
                  "legend": {"title": null, "orient": "none", "legendX": 1826, "legendY": 182, "padding": 30, "fillColor": "white", "symbolSize": 100, "symbolStrokeWidth": 2.5, "labelFontSize": 27, "labelLimit": 500, "labelColor": "#595959", "labelOffset": 15, "rowPadding": 37, "labelExpr": "datum.label == '0,0%' ? datum.label : 'Rendement_' + datum.label"}
                },
                "order": {"field": "serie"}
              }
            }
          ]
        }
      ]
    }
  ]
}
